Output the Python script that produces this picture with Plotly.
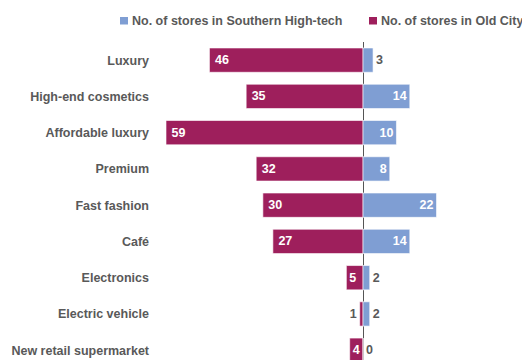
import plotly.graph_objects as go

categories = ["Luxury", "High-end cosmetics", "Affordable luxury", "Premium",
              "Fast fashion", "Café", "Electronics", "Electric vehicle",
              "New retail supermarket"]
old_city = [46, 35, 59, 32, 30, 27, 5, 1, 4]
southern = [3, 14, 10, 8, 22, 14, 2, 2, 0]
name_south = "No. of stores in Southern High-tech"
name_old = "No. of stores in Old City"

MAROON = "#9E1F5C"
BLUE = "#7F9ED3"
GRAY = "#595959"
FONT = "Liberation Sans, Arial, sans-serif"
FS = 12.5

def positions(vals, thresh):
    return ["inside" if v >= thresh else "outside" for v in vals]

old_text = [("\u2009" + str(v)) if v >= 10 else str(v) for v in old_city]

fig = go.Figure()
fig.add_trace(go.Bar(
    y=categories, x=[-v for v in old_city], orientation="h", name=name_old,
    marker=dict(color=MAROON, line=dict(color="rgba(255,255,255,0.6)", width=1)),
    text=old_text, textposition=positions(old_city, 4),
    insidetextanchor="end",
    insidetextfont=dict(color="white", family=FONT, size=FS, weight="bold"),
    outsidetextfont=dict(color=GRAY, family=FONT, size=FS, weight="bold"),
    cliponaxis=False, showlegend=False,
))
fig.add_trace(go.Bar(
    y=categories, x=southern, orientation="h", name=name_south,
    marker=dict(color=BLUE, line=dict(color="rgba(255,255,255,0.6)", width=1)),
    text=[str(v) for v in southern], textposition=positions(southern, 4),
    insidetextanchor="end",
    insidetextfont=dict(color="white", family=FONT, size=FS, weight="bold"),
    outsidetextfont=dict(color=GRAY, family=FONT, size=FS, weight="bold"),
    cliponaxis=False, showlegend=False,
))

L, R, T, B = 160, 10, 42, 0
W, H = 522, 360
pw, ph = W - L - R, H - T - B

def px_x(px):
    return (px - L) / pw

def px_y(py):
    return (H - B - py) / ph

# custom legend
legend_items = [(name_south, BLUE, 120), (name_old, MAROON, 369)]
shapes = []
annotations = []
for name, color, x0 in legend_items:
    shapes.append(dict(type="rect", xref="paper", yref="paper",
                       x0=px_x(x0), x1=px_x(x0 + 8), y0=px_y(24.5), y1=px_y(17),
                       fillcolor=color, line=dict(width=0)))
    annotations.append(dict(xref="paper", yref="paper", x=px_x(x0 + 10), y=px_y(21),
                            text=name, showarrow=False, xanchor="left", yanchor="middle",
                            font=dict(family=FONT, size=FS, color=GRAY, weight="bold")))

fig.update_layout(
    width=W, height=H, barmode="relative", bargap=0.33,
    margin=dict(l=L, r=R, t=T, b=B, pad=0),
    paper_bgcolor="white", plot_bgcolor="white",
    font=dict(family=FONT, size=FS, color=GRAY),
    xaxis=dict(range=[-60.8, 44.6], showgrid=False, showticklabels=False,
               zeroline=True, zerolinecolor="#555555", zerolinewidth=1, fixedrange=True),
    yaxis=dict(autorange=False, range=[8.27, -0.5], showgrid=False, zeroline=False,
               ticks="", ticklabelstandoff=10,
               tickfont=dict(family=FONT, size=FS, color=GRAY, weight="bold")),
    shapes=shapes, annotations=annotations, showlegend=False,
)

fig.write_html("out.html")
